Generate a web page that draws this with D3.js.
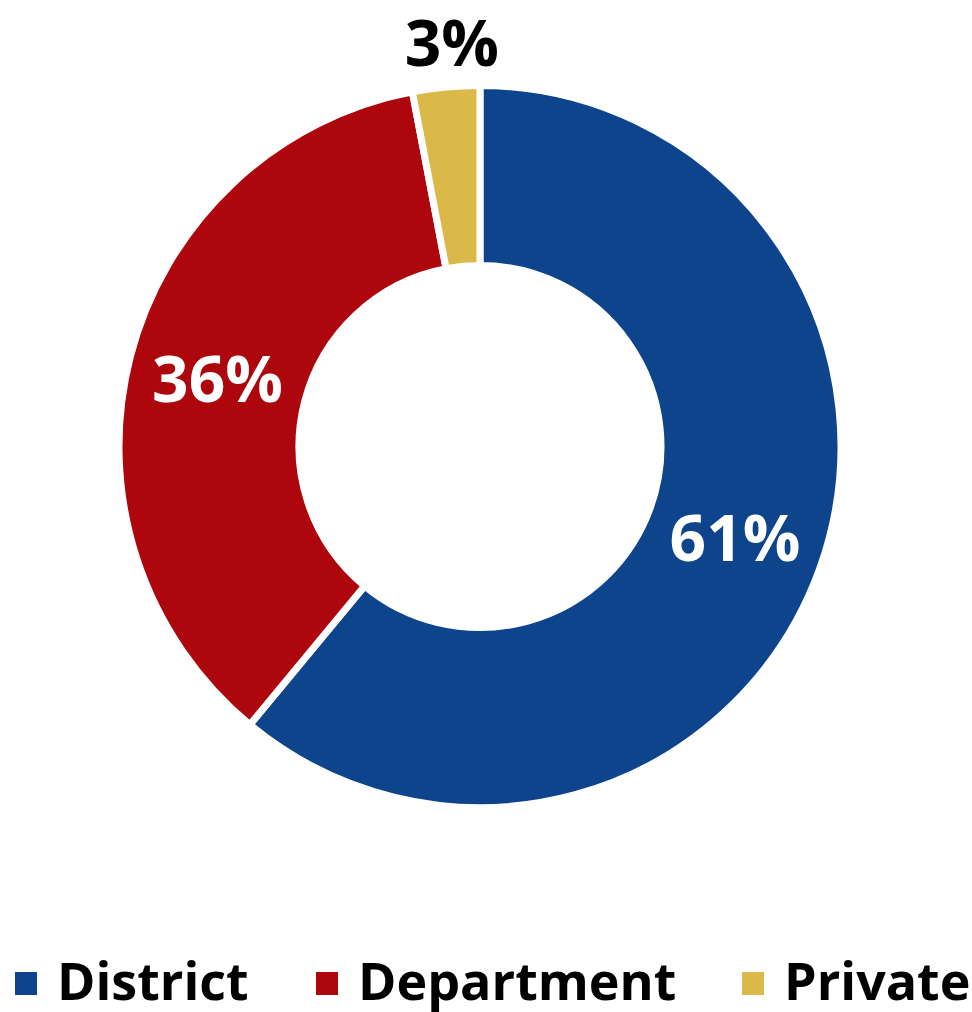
<!DOCTYPE html>
<html>
<head>
<meta charset="utf-8">
<script src="https://cdn.jsdelivr.net/npm/d3@7"></script>
<style>
  body { margin: 0; background: #fff; }
  text { font-family: 'Open Sans', sans-serif; font-weight: 700; }
</style>
</head>
<body>
<script>
// Data
var categories = ['District', 'Department', 'Private'];
var values = [61, 36, 3];
var colors = ['#0e448c', '#ad070d', '#dbb948'];

var width = 972, height = 1012;
var cx = 480, cy = 446.5;
var outerR = 361, innerR = 181;

var svg = d3.select('body').append('svg')
    .attr('width', width)
    .attr('height', height);

var data = categories.map(function(c, i) {
  return { name: c, value: values[i], color: colors[i] };
});

var pie = d3.pie()
    .sort(null)
    .value(function(d) { return d.value; });

var arc = d3.arc()
    .innerRadius(innerR)
    .outerRadius(outerR);

// small slices get their label outside the ring
var outerArc = d3.arc()
    .innerRadius(outerR + 44)
    .outerRadius(outerR + 44);

var g = svg.append('g')
    .attr('transform', 'translate(' + cx + ',' + cy + ')');

var arcs = pie(data);

g.selectAll('path')
    .data(arcs)
    .enter()
  .append('path')
    .attr('d', arc)
    .attr('fill', function(d) { return d.data.color; })
    .attr('stroke', '#fff')
    .attr('stroke-width', 7);

// Slice labels
g.selectAll('text.label')
    .data(arcs)
    .enter()
  .append('text')
    .attr('class', 'label')
    .attr('transform', function(d) {
      var p = arc.centroid(d);
      if (d.data.value < 10) {
        p = outerArc.centroid(d);
        p[0] += 10;
      }
      return 'translate(' + p[0] + ',' + p[1] + ')';
    })
    .attr('text-anchor', 'middle')
    .attr('dy', '0.36em')
    .style('font-size', '64px')
    .attr('fill', function(d) { return d.data.value < 10 ? '#000' : '#fff'; })
    .text(function(d) { return d.data.value + '%'; });

// Legend
var legendX = [15, 316, 742];
var legend = svg.selectAll('.legend')
    .data(data)
    .enter()
  .append('g')
    .attr('class', 'legend')
    .attr('transform', function(d, i) { return 'translate(' + legendX[i] + ',972)'; });

legend.append('rect')
    .attr('width', 22)
    .attr('height', 23)
    .attr('fill', function(d) { return d.color; });

legend.append('text')
    .attr('x', 42)
    .attr('y', 28)
    .style('font-size', '52px')
    .attr('fill', '#000')
    .text(function(d) { return d.name; });
</script>
</body>
</html>
